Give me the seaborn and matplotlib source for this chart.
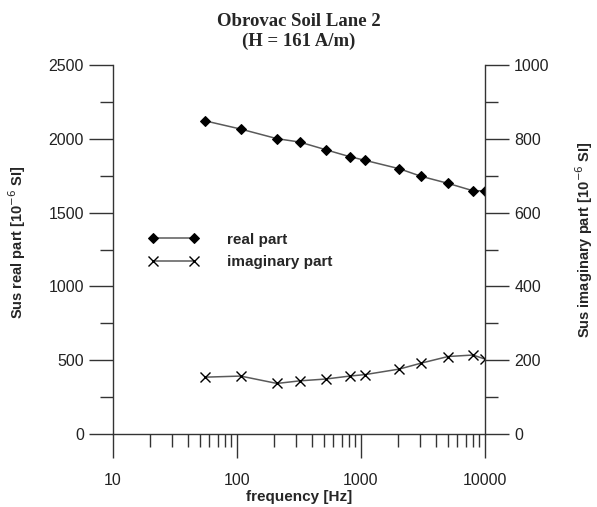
import numpy as np
import pandas as pd
import matplotlib
matplotlib.use('Agg')
import matplotlib.pyplot as plt
import seaborn as sns
from matplotlib.ticker import LogLocator, MultipleLocator, NullFormatter, FixedLocator

# values
frequency = [55, 107, 210, 320, 520, 810, 1080, 2040, 3050, 5040, 8000, 10000]
real_part = [2122, 2066, 2001, 1978, 1926, 1879, 1854, 1797, 1746, 1698, 1648, 1648]
imag_part = [154, 157, 137, 144, 149, 157, 161, 176, 192, 210, 214, 203]

df = pd.DataFrame({'frequency': frequency, 'real': real_part, 'imag': imag_part})

sns.set_style('white')
plt.rcParams['font.family'] = ['Liberation Sans', 'DejaVu Sans']

DPI = 100
fig = plt.figure(figsize=(5.97, 5.07), dpi=DPI)
ax = fig.add_axes([113 / 597, 1 - 434 / 507, (485 - 113) / 597, (434 - 65) / 507])
ax2 = ax.twinx()

line_col = '#5a5a5a'
sns.lineplot(data=df, x='frequency', y='real', ax=ax, color=line_col, linewidth=1.1,
             marker='D', markersize=5.5, markerfacecolor='black', markeredgecolor='black',
             label='real part', legend=False)
sns.lineplot(data=df, x='frequency', y='imag', ax=ax2, color=line_col, linewidth=1.1,
             marker='x', markersize=6.5, markeredgecolor='black', markeredgewidth=1.0,
             label='imaginary part', legend=False)

ax.set_xscale('log')
ax.set_xlim(10, 10000)
ax.set_ylim(0, 2500)
ax2.set_ylim(0, 1000)

ax.xaxis.set_major_locator(FixedLocator([10, 100, 1000, 10000]))
ax.xaxis.set_minor_locator(LogLocator(base=10, subs=np.arange(2, 10)))
ax.xaxis.set_minor_formatter(NullFormatter())
ax.set_xticklabels(['10', '100', '1000', '10000'])
ax.yaxis.set_major_locator(MultipleLocator(500))
ax.yaxis.set_minor_locator(MultipleLocator(250))
ax2.yaxis.set_major_locator(MultipleLocator(200))
ax2.yaxis.set_minor_locator(MultipleLocator(100))

spine_col = '#333333'
for a in (ax, ax2):
    a.spines['top'].set_visible(False)
    for s in a.spines.values():
        s.set_color(spine_col)
        s.set_linewidth(1.0)
    a.tick_params(which='major', direction='out', length=17, width=1.0, color=spine_col,
                  labelsize=11.5, labelcolor='#222222', pad=4)
    a.tick_params(which='minor', direction='out', length=9.5, width=1.0, color=spine_col)
    a.grid(False)
ax.spines['right'].set_visible(False)
ax2.spines['left'].set_visible(False)
ax2.spines['bottom'].set_visible(False)
ax.tick_params(axis='x', which='both', bottom=True, top=False)
ax.tick_params(axis='y', which='both', left=True, right=False)
ax2.tick_params(axis='y', which='both', right=True, left=False)
ax.tick_params(axis='x', which='major', pad=11)

ax.set_xlabel('frequency [Hz]', fontsize=11, fontweight='bold')
ax.xaxis.set_label_coords(0.5, -0.152)
ax.set_ylabel('Sus real part [10$^{-6}$ SI]', fontsize=10.5, fontweight='bold')
ax.yaxis.set_label_coords(-0.228, 0.52)
ax2.set_ylabel('Sus imaginary part [10$^{-6}$ SI]', fontsize=10.5, fontweight='bold')
ax2.yaxis.set_label_coords(1.238, 0.525)

ax.set_title('Obrovac Soil Lane 2\n(H = 161 A/m)', fontsize=13.5, fontweight='bold',
             family=['Liberation Serif', 'DejaVu Serif'], pad=14, linespacing=1.2)

handles = ax.get_lines()[:1] + ax2.get_lines()[:1]
fig.legend(handles, ['real part', 'imaginary part'], loc='center left',
           bbox_to_anchor=(148 / 597, 1 - 251 / 507), bbox_transform=fig.transFigure,
           frameon=False, numpoints=2, handlelength=3.3, handletextpad=1.9,
           labelspacing=0.55, borderpad=0, borderaxespad=0,
           prop={'size': 11, 'weight': 'bold'})

fig.savefig('out.png', dpi=DPI)
